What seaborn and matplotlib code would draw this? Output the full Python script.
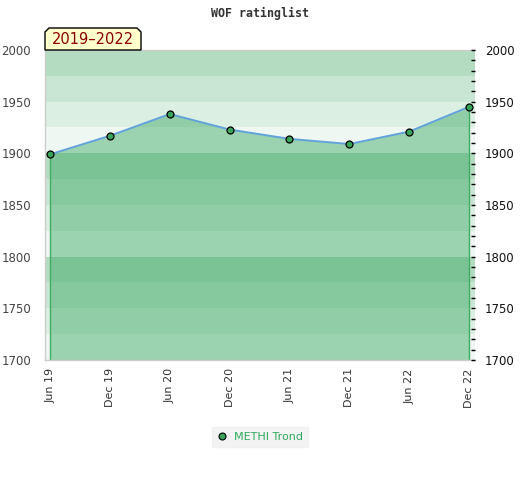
import matplotlib
matplotlib.use("Agg")
import matplotlib.pyplot as plt
from matplotlib.patches import Polygon
from matplotlib.lines import Line2D
import seaborn as sns
import pandas as pd
import numpy as np

# ---- data ----
periods = ["Jun 19", "Dec 19", "Jun 20", "Dec 20", "Jun 21", "Dec 21", "Jun 22", "Dec 22"]
ratings = [1899, 1917, 1938, 1923, 1914, 1909, 1921, 1945]
player = "METHI Trond"
title = "WOF ratinglist"
range_label = "2019\u20132022"
y_ticks = [1700, 1750, 1800, 1850, 1900, 1950, 2000]

sns.set_theme(style="white")
plt.rcParams['font.family'] = ['DejaVu Sans']

W, H = 520, 480
fig = plt.figure(figsize=(W / 100, H / 100), dpi=100)
L, R, T, B = 45, 475, 50, 360
ax = fig.add_axes([L / W, 1 - B / H, (R - L) / W, (B - T) / H])

df = pd.DataFrame({"idx": np.arange(len(periods)), "rating": ratings, "period": periods})

# background bands
band_cols = ["#b3dcc1", "#c8e6d3", "#dcefe3", "#eef7f1"]
for i, lo in enumerate(range(2000, 1700, -25)):
    ax.axhspan(lo - 25, lo, color=band_cols[i % 4], lw=0, zorder=0)

# fill under line
ax.fill_between(df["idx"], df["rating"], 1700, color=(57/255, 167/255, 97/255),
                alpha=0.46, lw=0, zorder=1)
ax.vlines([df["idx"].iloc[0], df["idx"].iloc[-1]], 1700,
          [df["rating"].iloc[0], df["rating"].iloc[-1]], color="#3fae62", lw=1.0, zorder=2)

sns.lineplot(data=df, x="idx", y="rating", ax=ax, color="#62a2da", lw=1.4,
             marker="o", markersize=5, markerfacecolor="#3aa35a",
             markeredgecolor="black", markeredgewidth=0.9, zorder=3)

ax.set_xlim(-0.085, 7.1)
ax.set_ylim(1700, 2000)
ax.set_xlabel("")
ax.set_ylabel("")
ax.set_xticks(df["idx"])
ax.set_xticklabels(periods, rotation=90, fontsize=8, color="#333333")
ax.set_yticks(y_ticks)
ax.set_yticklabels([str(v) for v in y_ticks], fontsize=8.5, color="#444444")
ax.tick_params(axis="y", length=0, pad=10)
ax.tick_params(axis="x", length=0, pad=6)

for s in ["top", "left", "bottom"]:
    ax.spines[s].set_color("#cccccc")
    ax.spines[s].set_linewidth(1)
ax.spines["right"].set_visible(False)

# right axis
ax2 = ax.twinx()
ax2.set_ylim(1700, 2000)
ax2.set_yticks(y_ticks)
ax2.set_yticklabels([str(v) for v in y_ticks], fontsize=8.5, color="#111111")
ax2.set_yticks(np.arange(1700, 2001, 10), minor=True)
ax2.tick_params(axis="y", which="major", direction="in", length=3, width=1,
                color="black", pad=7)
ax2.tick_params(axis="y", which="minor", direction="in", length=3, width=1,
                color="black")
for s in ax2.spines.values():
    s.set_visible(False)
ax2.grid(False)

# title
fig.text(260 / W, 1 - 13 / H, title, ha="center", va="center",
         family="DejaVu Sans Mono", fontweight="bold", fontsize=8.4, color="#333333")

# label box
x0, x1, y0, y1, c = 45, 141, 28, 50, 4
pts = [(x0, y1), (x0, y0 + c), (x0 + c, y0), (x1 - c, y0), (x1, y0 + c), (x1, y1)]
poly = Polygon([(px / W, 1 - py / H) for px, py in pts], closed=True,
               transform=fig.transFigure, facecolor="#ffffcc", edgecolor="black",
               lw=1, zorder=5)
fig.patches.append(poly)
fig.text((x0 + x1) / 2 / W, 1 - 40 / H, range_label, ha="center", va="center",
         fontsize=10.5, color="#8b0000", zorder=6)

# legend
handle = Line2D([], [], ls="none", marker="o", markersize=5,
                markerfacecolor="#3aa35a", markeredgecolor="black", markeredgewidth=0.8)
leg = fig.legend([handle], [player], loc="center", bbox_to_anchor=(260 / W, 1 - 437 / H),
                 frameon=True, fancybox=False, fontsize=8, handlelength=1.0,
                 handletextpad=0.6, borderpad=0.45)
leg.get_frame().set_facecolor("#f0f0f0")
leg.get_frame().set_edgecolor("#f0f0f0")
for t in leg.get_texts():
    t.set_color("#2eaa5c")

fig.savefig("out.png", dpi=100)
